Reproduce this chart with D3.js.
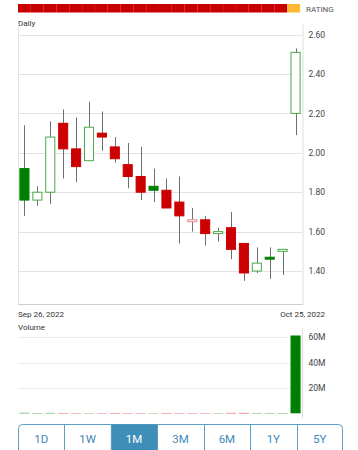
<!DOCTYPE html>
<html><head><meta charset="utf-8">
<script src="https://cdn.jsdelivr.net/npm/d3@7"></script>
<style>
html,body{margin:0;padding:0;background:#fff;overflow:hidden}
svg{display:block;font-family:Roboto,"Noto Sans",Arial,sans-serif}
</style></head>
<body>
<svg id="c" width="358" height="450"></svg>
<script>
const dates = ["Sep 26","Sep 27","Sep 28","Sep 29","Sep 30","Oct 3","Oct 4","Oct 5","Oct 6","Oct 7","Oct 10","Oct 11","Oct 12","Oct 13","Oct 14","Oct 17","Oct 18","Oct 19","Oct 20","Oct 21","Oct 24","Oct 25"];
const prevClose = 1.70;
const opens  = [1.92,1.76,1.80,2.15,2.02,1.96,2.10,2.03,1.94,1.88,1.83,1.81,1.75,1.65,1.66,1.59,1.62,1.54,1.40,1.47,1.50,2.20];
const highs  = [2.14,1.83,2.16,2.22,2.18,2.26,2.21,2.08,2.05,2.03,1.92,1.87,1.88,1.72,1.68,1.62,1.70,1.54,1.52,1.52,1.51,2.53];
const lows   = [1.68,1.73,1.74,1.87,1.85,1.96,2.01,1.95,1.82,1.76,1.75,1.72,1.54,1.60,1.53,1.55,1.46,1.35,1.39,1.36,1.38,2.09];
const closes = [1.76,1.80,2.08,2.02,1.93,2.13,2.08,1.97,1.88,1.80,1.81,1.72,1.68,1.66,1.59,1.60,1.51,1.39,1.44,1.46,1.51,2.51];
const volumes = [0.35,0.25,0.3,0.25,0.2,0.2,0.2,0.25,0.2,0.2,0.2,0.25,0.2,0.2,0.2,0.2,0.3,0.3,0.25,0.25,0.25,61.4].map(v=>v*1e6);
const priceTicks = [1.40,1.60,1.80,2.00,2.20,2.40,2.60];
const volumeTicks = [20e6,40e6,60e6];
const ranges = ["1D","1W","1M","3M","6M","1Y","5Y"];
const selectedRange = "1M";
const startLabel = "Sep 26, 2022", endLabel = "Oct 25, 2022";

const RED = "#cc0000", GREEN = "#008000", HOLLOW_G = "#4aa84a", HOLLOW_R = "#e88a8a";
const svg = d3.select("#c");
const L = 18, R = 302;

const x = d3.scaleBand().domain(dates).range([L, R]).paddingInner(0.22).paddingOuter(0.11);
const xc = d => x(d) + x.bandwidth()/2;

// rating bar
const rx = d3.scaleBand().domain(dates).range([L, 300]);
svg.append("g").selectAll("rect").data(dates).join("rect")
  .attr("x", d => rx(d)).attr("y", 4).attr("width", rx.bandwidth()).attr("height", 8.5)
  .attr("fill", (d,i) => i === dates.length-1 ? "#ffb833" : "#c90000");
svg.append("g").selectAll("line").data(dates.slice(1, dates.length-1)).join("line")
  .attr("x1", d => rx(d)).attr("x2", d => rx(d)).attr("y1", 4).attr("y2", 12.5)
  .attr("stroke", "#d42222").attr("stroke-width", 0.3);
svg.append("text").attr("x", 306).attr("y", 11.5).attr("font-size", 8).attr("fill", "#555").text("RATING");

// price panel
const y = d3.scaleLinear().domain([1.2325, 2.654]).range([304, 24]);
svg.append("text").attr("x", L).attr("y", 26).attr("font-size", 8).attr("fill", "#333").text("Daily");
svg.append("g").selectAll("line").data(priceTicks).join("line")
  .attr("x1", L).attr("x2", R).attr("y1", d => Math.round(y(d))+0.5).attr("y2", d => Math.round(y(d))+0.5)
  .attr("stroke", "#e3e3e3").attr("stroke-width", 1);
const yAxis = d3.axisRight(y).tickValues(priceTicks).tickFormat(d3.format(".2f")).tickSize(0).tickPadding(6);
const ga = svg.append("g").attr("transform", `translate(${R+0.5},0)`).call(yAxis);
ga.select(".domain").attr("stroke", "#e0e0e0");
ga.selectAll("text").attr("font-size", 8.5).attr("fill", "#444").attr("font-family", "Roboto,Noto Sans,Arial,sans-serif");
svg.append("line").attr("x1", L+0.5).attr("x2", L+0.5).attr("y1", 24).attr("y2", 304).attr("stroke", "#e3e3e3");
svg.append("line").attr("x1", L).attr("x2", R+1).attr("y1", 304.5).attr("y2", 304.5).attr("stroke", "#cfcfcf");

const candles = dates.map((d,i) => ({d, o:opens[i], h:highs[i], l:lows[i], c:closes[i],
  up: closes[i] >= (i === 0 ? prevClose : closes[i-1]), hollow: closes[i] > opens[i]}));

const cg = svg.append("g");
cg.selectAll("line").data(candles).join("line")
  .attr("x1", d => Math.round(xc(d.d))+0.5).attr("x2", d => Math.round(xc(d.d))+0.5)
  .attr("y1", d => y(d.h)).attr("y2", d => y(d.l))
  .attr("stroke", "#707070").attr("stroke-width", 1);
cg.selectAll("rect").data(candles).join("rect")
  .attr("x", d => x(d.d)+0.5).attr("width", x.bandwidth()-1)
  .attr("y", d => y(Math.max(d.o,d.c))).attr("height", d => Math.max(1.5, Math.abs(y(d.o)-y(d.c))))
  .attr("fill", d => d.hollow ? "#fff" : (d.up ? GREEN : RED))
  .attr("stroke", d => d.hollow ? (d.up ? HOLLOW_G : HOLLOW_R) : (d.up ? GREEN : RED))
  .attr("stroke-width", 1);

svg.append("text").attr("x", L).attr("y", 317).attr("font-size", 8).attr("fill", "#333").text(startLabel);
svg.append("text").attr("x", 325).attr("y", 317).attr("font-size", 8).attr("fill", "#333").attr("text-anchor", "end").text(endLabel);

// volume panel
const yv = d3.scaleLinear().domain([0, 67.3e6]).range([413.3, 328]);
svg.append("text").attr("x", L).attr("y", 330).attr("font-size", 8).attr("fill", "#333").text("Volume");
svg.append("g").selectAll("line").data(volumeTicks).join("line")
  .attr("x1", L).attr("x2", R).attr("y1", d => Math.round(yv(d))+0.5).attr("y2", d => Math.round(yv(d))+0.5)
  .attr("stroke", "#ececec");
const vAxis = d3.axisRight(yv).tickValues(volumeTicks).tickFormat(d => d3.format("d")(d/1e6)+"M").tickSize(0).tickPadding(6);
const gv = svg.append("g").attr("transform", `translate(${R+0.5},0)`).call(vAxis);
gv.select(".domain").remove();
svg.append("line").attr("x1", R+0.5).attr("x2", R+0.5).attr("y1", 328).attr("y2", 419).attr("stroke", "#e0e0e0");
gv.selectAll("text").attr("font-size", 8.5).attr("fill", "#444").attr("font-family", "Roboto,Noto Sans,Arial,sans-serif");
svg.append("g").selectAll("rect").data(candles).join("rect")
  .attr("x", d => x(d.d)).attr("width", x.bandwidth())
  .attr("y", (d,i) => yv(volumes[i])).attr("height", (d,i) => yv(0) - yv(volumes[i]))
  .attr("fill", d => d.up ? GREEN : RED);

// range buttons
const bx = d3.scaleBand().domain(ranges).range([L, 343]);
const bg = svg.append("g");
bg.append("rect").attr("x", L+0.5).attr("y", 424.5).attr("width", 343-L-1).attr("height", 34).attr("rx", 4)
  .attr("fill", "#fff").attr("stroke", "#5b9fc4");
bg.selectAll("rect.sel").data(ranges.filter(r => r === selectedRange)).join("rect").attr("class","sel")
  .attr("x", d => bx(d)).attr("y", 424.5).attr("width", bx.bandwidth()).attr("height", 34).attr("fill", "#3d8fb8");
bg.selectAll("line").data(ranges.slice(1)).join("line")
  .attr("x1", d => Math.round(bx(d))+0.5).attr("x2", d => Math.round(bx(d))+0.5)
  .attr("y1", 424.5).attr("y2", 450).attr("stroke", "#5b9fc4");
bg.selectAll("text").data(ranges).join("text")
  .attr("x", d => bx(d) + bx.bandwidth()/2).attr("y", 443).attr("text-anchor", "middle")
  .attr("font-size", 11.5).attr("fill", d => d === selectedRange ? "#fff" : "#3f87b5").text(d => d);
</script>
</body></html>
